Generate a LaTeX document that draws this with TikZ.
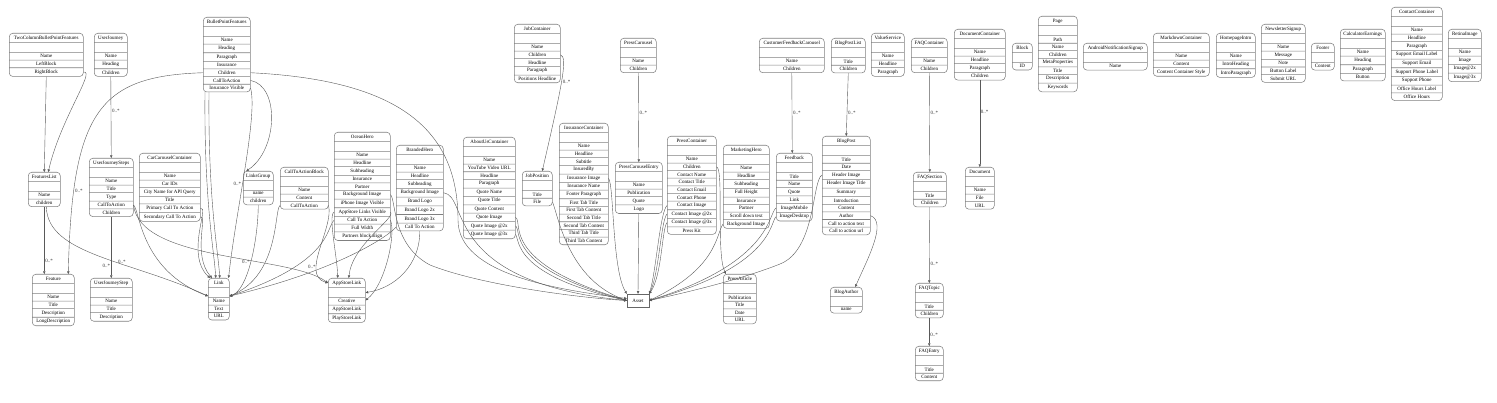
\documentclass[tikz,border=0pt]{standalone}
\usepackage{fontspec}
\setmainfont{Liberation Serif}
\usetikzlibrary{shapes.multipart, arrows.meta}

\begin{document}
\begin{tikzpicture}[x=1pt, y=-1pt, every node/.style={font=\fontsize{5}{6}\selectfont},
	classbox/.style={rectangle split, draw=black!50, line width=.55pt, rounded corners=3.5pt, anchor=north west, inner xsep=2pt, inner ysep=1.8pt, text height=4pt, text depth=1.2pt, rectangle split empty part height=4pt, rectangle split empty part depth=1.2pt},
	assoc/.style={draw=black!65, line width=.4pt, -{Triangle[length=2.6pt, width=2.4pt]}},
	mult/.style={inner sep=1pt, text=black!80}]
			\useasboundingbox (0,0) rectangle (1497,403);
			%Top row
			\node[classbox, rectangle split parts=5, minimum width=74pt] (twocolumn) at (9,33) {TwoColumnBulletPointFeatures \nodepart{two} \nodepart{three} Name \nodepart{four} LeftBlock \nodepart{five} RightBlock};
			\node[classbox, rectangle split parts=5, minimum width=33pt] (userjourney) at (94,33) {UserJourney \nodepart{two} \nodepart{three} Name \nodepart{four} Heading \nodepart{five} Children};
			\node[classbox, rectangle split parts=9, minimum width=47pt] (bullet) at (203,17) {BulletPointFeatures \nodepart{two} \nodepart{three} Name \nodepart{four} Heading \nodepart{five} Paragraph \nodepart{six} Insurance \nodepart{seven} Children \nodepart{eight} CallToAction \nodepart{nine} Insurance Visible};
			\node[classbox, rectangle split parts=7, minimum width=46pt] (jobcontainer) at (514,24) {JobContainer \nodepart{two} \nodepart{three} Name \nodepart{four} Children \nodepart{five} Headline \nodepart{six} Paragraph \nodepart{seven} Positions Headline};
			\node[classbox, rectangle split parts=4, minimum width=36pt] (presscarousel) at (620,38) {PressCarousel \nodepart{two} \nodepart{three} Name \nodepart{four} Children};
			\node[classbox, rectangle split parts=4, minimum width=65pt] (feedbackcarousel) at (759,38) {CustomerFeedbackCarousel \nodepart{two} \nodepart{three} Name \nodepart{four} Children};
			\node[classbox, rectangle split parts=4, minimum width=34pt] (blogpostlist) at (831,38) {BlogPostList \nodepart{two} \nodepart{three} Title \nodepart{four} Children};
			\node[classbox, rectangle split parts=5, minimum width=33pt] (valueservice) at (871,33) {ValueService \nodepart{two} \nodepart{three} Name \nodepart{four} Headline \nodepart{five} Paragraph};
			\node[classbox, rectangle split parts=4, minimum width=36pt] (faqcontainer) at (911,38) {FAQContainer \nodepart{two} \nodepart{three} Name \nodepart{four} Children};
			\node[classbox, rectangle split parts=6, minimum width=51pt] (doccontainer) at (954,29) {DocumentContainer \nodepart{two} \nodepart{three} Name \nodepart{four} Headline \nodepart{five} Paragraph \nodepart{six} Children};
			\node[classbox, rectangle split parts=3, minimum width=20pt] (block) at (1012,43) {Block \nodepart{two} \nodepart{three} ID};
			\node[classbox, rectangle split parts=9, minimum width=39pt] (page) at (1038,16) {Page \nodepart{two} \nodepart{three} Path \nodepart{four} Name \nodepart{five} Children \nodepart{six} MetaProperties \nodepart{seven} Title \nodepart{eight} Description \nodepart{nine} Keywords};
			\node[classbox, rectangle split parts=3, minimum width=64pt] (androidsignup) at (1083,43) {AndroidNotificationSignup \nodepart{two} \nodepart{three} Name};
			\node[classbox, rectangle split parts=5, minimum width=56pt] (markdown) at (1153,33) {MarkdownContainer \nodepart{two} \nodepart{three} Name \nodepart{four} Content \nodepart{five} Content Container Style};
			\node[classbox, rectangle split parts=5, minimum width=39pt] (homepageintro) at (1216,33) {HomepageIntro \nodepart{two} \nodepart{three} Name \nodepart{four} IntroHeading \nodepart{five} IntroParagraph};
			\node[classbox, rectangle split parts=7, minimum width=44pt] (newsletter) at (1261,24) {NewsletterSignup \nodepart{two} \nodepart{three} Name \nodepart{four} Message \nodepart{five} Note \nodepart{six} Button Label \nodepart{seven} Submit URL};
			\node[classbox, rectangle split parts=3, minimum width=23pt] (footer) at (1311,43) {Footer \nodepart{two} \nodepart{three} Content};
			\node[classbox, rectangle split parts=6, minimum width=45pt] (calculator) at (1340,29) {CalculatorEarnings \nodepart{two} \nodepart{three} Name \nodepart{four} Heading \nodepart{five} Paragraph \nodepart{six} Button};
			\node[classbox, rectangle split parts=11, minimum width=51pt] (contact) at (1391,7) {ContactContainer \nodepart{two} \nodepart{three} Name \nodepart{four} Headline \nodepart{five} Paragraph \nodepart{six} Support Email Label \nodepart{seven} Support Email \nodepart{eight} Support Phone Label \nodepart{nine} Support Phone \nodepart{ten} Office Hours Label \nodepart{eleven} Office Hours};
			\node[classbox, rectangle split parts=6, minimum width=33pt] (retina) at (1448,29) {RetinaImage \nodepart{two} \nodepart{three} Name \nodepart{four} Image \nodepart{five} Image@2x \nodepart{six} Image@3x};
			%Middle row
			\node[classbox, rectangle split parts=4, minimum width=32pt] (featureslist) at (28,172) {FeaturesList \nodepart{two} \nodepart{three} Name \nodepart{four} children};
			\node[classbox, rectangle split parts=7, minimum width=44pt] (journeysteps) at (89,158) {UserJourneySteps \nodepart{two} \nodepart{three} Name \nodepart{four} Title \nodepart{five} Type \nodepart{six} CallToAction \nodepart{seven} Children};
			\node[classbox, rectangle split parts=8, minimum width=61pt] (carcarousel) at (139,153) {CarCarouselContainer \nodepart{two} \nodepart{three} Name \nodepart{four} Car IDs \nodepart{five} City Name for API Query \nodepart{six} Title \nodepart{seven} Primary Call To Action \nodepart{eight} Secondary Call To Action};
			\node[classbox, rectangle split parts=4, minimum width=30pt] (linksgroup) at (243,171) {LinksGroup \nodepart{two} \nodepart{three} name \nodepart{four} children};
			\node[classbox, rectangle split parts=5, minimum width=48pt] (ctablock) at (280,167) {CallToActionBlock \nodepart{two} \nodepart{three} Name \nodepart{four} Content \nodepart{five} CallToAction};
			\node[classbox, rectangle split parts=13, minimum width=56pt] (oceanhero) at (334,132) {OceanHero \nodepart{two} \nodepart{three} Name \nodepart{four} Headline \nodepart{five} Subheading \nodepart{six} Insurance \nodepart{seven} Partner \nodepart{eight} Background Image \nodepart{nine} iPhone Image Visible \nodepart{ten} AppStore Links Visible \nodepart{eleven} Call To Action \nodepart{twelve} Full Width \nodepart{thirteen} Partners block align};
			\node[classbox, rectangle split parts=10, minimum width=47pt] (brandedhero) at (396,145) {BrandedHero \nodepart{two} \nodepart{three} Name \nodepart{four} Headline \nodepart{five} Subheading \nodepart{six} Background Image \nodepart{seven} Brand Logo \nodepart{eight} Brand Logo 2x \nodepart{nine} Brand Logo 3x \nodepart{ten} Call To Action};
			\node[classbox, rectangle split parts=12, minimum width=52pt] (aboutus) at (463,137) {AboutUsContainer \nodepart{two} \nodepart{three} Name \nodepart{four} YouTube Video URL \nodepart{five} Headline \nodepart{six} Paragraph \nodepart{seven} Quote Name \nodepart{eight} Quote Title \nodepart{nine} Quote Content \nodepart{ten} Quote Image \nodepart{eleven} Quote Image @2x \nodepart{twelve} Quote Image @3x};
			\node[classbox, rectangle split parts=4, minimum width=30pt] (jobposition) at (522,171) {JobPosition \nodepart{two} \nodepart{three} Title \nodepart{four} File};
			\node[classbox, rectangle split parts=15, minimum width=49pt] (insurance) at (559,123) {InsuranceContainer \nodepart{two} \nodepart{three} Name \nodepart{four} Headline \nodepart{five} Subtitle \nodepart{six} InsuredBy \nodepart{seven} Insurance Image \nodepart{eight} Insurance Name \nodepart{nine} Footer Paragraph \nodepart{ten} First Tab Title \nodepart{eleven} First Tab Content \nodepart{twelve} Second Tab Title \nodepart{thirteen} Second Tab Content \nodepart{fourteen} Third Tab Title \nodepart{fifteen} Third Tab Content};
			\node[classbox, rectangle split parts=6, minimum width=47pt] (pressentry) at (615,162) {PressCarouselEntry \nodepart{two} \nodepart{three} Name \nodepart{four} Publication \nodepart{five} Quote \nodepart{six} Logo};
			\node[classbox, rectangle split parts=12, minimum width=49pt] (presscontainer) at (667,136) {PressContainer \nodepart{two} \nodepart{three} Name \nodepart{four} Children \nodepart{five} Contact Name \nodepart{six} Contact Title \nodepart{seven} Contact Email \nodepart{eight} Contact Phone \nodepart{nine} Contact Image \nodepart{ten} Contact Image @2x \nodepart{eleven} Contact Image @3x \nodepart{twelve} Press Kit};
			\node[classbox, rectangle split parts=10, minimum width=46pt] (marketinghero) at (723,145) {MarketingHero \nodepart{two} \nodepart{three} Name \nodepart{four} Headline \nodepart{five} Subheading \nodepart{six} Full Height \nodepart{seven} Insurance \nodepart{eight} Partner \nodepart{nine} Scroll down text \nodepart{ten} Background Image};
			\node[classbox, rectangle split parts=8, minimum width=36pt] (feedback) at (776,153) {Feedback \nodepart{two} \nodepart{three} Title \nodepart{four} Name \nodepart{five} Quote \nodepart{six} Link \nodepart{seven} ImageMobile \nodepart{eight} ImageDesktop};
			\node[classbox, rectangle split parts=12, minimum width=48pt] (blogpost) at (822,136) {BlogPost \nodepart{two} \nodepart{three} Title \nodepart{four} Date \nodepart{five} Header Image \nodepart{six} Header Image Title \nodepart{seven} Summary \nodepart{eight} Introduction \nodepart{nine} Content \nodepart{ten} Author \nodepart{eleven} Call to action text \nodepart{twelve} Call to action url};
			\node[classbox, rectangle split parts=4, minimum width=33pt] (faqsection) at (913,172) {FAQSection \nodepart{two} \nodepart{three} Title \nodepart{four} Children};
			\node[classbox, rectangle split parts=5, minimum width=29pt] (document) at (965,167) {Document \nodepart{two} \nodepart{three} Name \nodepart{four} File \nodepart{five} URL};
			%Bottom row
			\node[classbox, rectangle split parts=6, minimum width=42pt] (feature) at (32,274) {Feature \nodepart{two} \nodepart{three} Name \nodepart{four} Title \nodepart{five} Description \nodepart{six} LongDescription};
			\node[classbox, rectangle split parts=5, minimum width=42pt] (journeystep) at (90,278) {UserJourneyStep \nodepart{two} \nodepart{three} Name \nodepart{four} Title \nodepart{five} Description};
			\node[classbox, rectangle split parts=5, minimum width=21pt] (link) at (208,278) {Link \nodepart{two} \nodepart{three} Name \nodepart{four} Text \nodepart{five} URL};
			\node[classbox, rectangle split parts=5, minimum width=37pt] (appstorelink) at (328,278) {AppStoreLink \nodepart{two} \nodepart{three} Creative \nodepart{four} AppStoreLink \nodepart{five} PlayStoreLink};
			\node[draw=black!60, line width=.4pt, minimum width=22pt, minimum height=13pt, inner sep=0pt] (asset) at (638,300.5) {Asset};
			\node[classbox, rectangle split parts=6, minimum width=33pt] (pressarticle) at (723,274) {PressArticle \nodepart{two} \nodepart{three} Publication \nodepart{four} Title \nodepart{five} Date \nodepart{six} URL};
			\node[classbox, rectangle split parts=3, minimum width=32pt] (blogauthor) at (830,287) {BlogAuthor \nodepart{two} \nodepart{three} name};
			\node[classbox, rectangle split parts=4, minimum width=28pt] (faqtopic) at (915,283) {FAQTopic \nodepart{two} \nodepart{three} Title \nodepart{four} Children};
			\node[classbox, rectangle split parts=4, minimum width=28pt] (faqentry) at (915,346) {FAQEntry \nodepart{two} \nodepart{three} Title \nodepart{four} Content};
			% Features and journeys
			\draw[assoc] (twocolumn.south) -- (featureslist.north);
			\draw[assoc] (twocolumn.five east) .. controls (96,70) and (60,120) .. ([xshift=4pt]featureslist.north);
			\draw[assoc] (featureslist.south) -- node[mult, pos=.8, right] {0..*} ([xshift=-9pt]feature.north);
			\draw[assoc] (bullet.seven west) .. controls (100,76) and (72,110) .. node[mult, pos=.8, right] {0..*} ([xshift=15pt]feature.north);
			\draw[assoc] (userjourney.south) -- node[mult, pos=.42, right] {0..*} (journeysteps.north);
			\draw[assoc] (journeysteps.south) -- node[mult, pos=.8, left] {0..*} (journeystep.north);
			% Links
			\draw[assoc] ([xshift=2pt]featureslist.south) .. controls (48,255) and (130,260) .. node[mult, pos=.62, above] {0..*} ([yshift=3pt]link.west);
			\draw[assoc] (journeysteps.six east) .. controls (140,210) and (140,270) .. ([yshift=3pt]link.west);
			\draw[assoc] (carcarousel.seven east) .. controls (210,205) and (185,255) .. ([xshift=2pt]link.north west);
			\draw[assoc] (carcarousel.eight east) .. controls (208,214) and (192,255) .. ([xshift=4pt]link.north west);
			\draw[assoc] ([xshift=2pt]bullet.south west) .. controls (204,200) and (214,250) .. ([xshift=-3pt]link.north);
			\draw[assoc] ([xshift=6pt]bullet.south west) .. controls (208,200) and (218,250) .. ([xshift=1pt]link.north);
			\draw[assoc] (bullet.nine east) .. controls (258,115) and (236,210) .. ([xshift=-1pt]link.north east);
			\draw[assoc] (bullet.eight east) .. controls (280,86) and (278,150) .. node[mult, pos=1, anchor=north east, xshift=-4pt, yshift=-10pt] {0..*} ([xshift=-12pt]linksgroup.north);
			\draw[assoc] (linksgroup.south) .. controls (258,240) and (248,290) .. node[mult, left] {0..*} ([yshift=3pt]link.east);
			\draw[assoc] (ctablock.five west) .. controls (274,210) and (280,275) .. ([yshift=3pt]link.east);
			\draw[assoc] (oceanhero.eleven west) .. controls (326,228) and (332,262) .. ([yshift=3pt]link.east);
			\draw[assoc] (brandedhero.ten west) .. controls (390,235) and (340,270) .. ([yshift=3pt]link.east);
			% App store links
			\draw[assoc] (journeysteps.six east) .. controls (140,262) and (290,255) .. (appstorelink.text west);
			\draw[assoc] (ctablock.five east) .. controls (334,228) and (300,275) .. node[mult, pos=.7, left] {0..*} (appstorelink.text west);
			\draw[assoc] (oceanhero.ten west) .. controls (328,216) and (337,255) .. ([xshift=-9pt]appstorelink.north);
			\draw[assoc] (oceanhero.ten east) .. controls (396,218) and (352,245) .. ([xshift=2pt]appstorelink.north);
			\draw[assoc] (oceanhero.eleven east) .. controls (396,235) and (385,285) .. (appstorelink.east);
			\draw[assoc] (brandedhero.south) .. controls (420,265) and (395,288) .. (appstorelink.two east);
			% Assets
			\draw[assoc] (bullet.seven east) .. controls (400,80) and (458,130) .. (458,220) .. controls (458,275) and (560,290) .. ([yshift=2pt]asset.west);
			\draw[assoc] (oceanhero.eight east) .. controls (396,200) and (392,245) .. (430,265) .. controls (480,285) and (580,298) .. (asset.west);
			\draw[assoc] (brandedhero.six east) .. controls (470,196) and (440,282) .. (asset.west);
			\draw[assoc] (aboutus.ten east) .. controls (524,222) and (498,262) .. (asset.west);
			\draw[assoc] (aboutus.eleven east) .. controls (522,230) and (505,268) .. (asset.west);
			\draw[assoc] (aboutus.twelve east) .. controls (520,240) and (512,275) .. (asset.west);
			\draw[assoc] (jobposition.four east) .. controls (558,215) and (568,280) .. (asset.west);
			\draw[assoc] (insurance.seven east) .. controls (614,185) and (612,270) .. (asset.north west);
			\draw[assoc] (pressentry.south) -- (asset.north);
			\draw[assoc] (presscontainer.nine west) .. controls (660,212) and (656,272) .. (asset.north east);
			\draw[assoc] (presscontainer.ten west) .. controls (661,220) and (659,274) .. (asset.north east);
			\draw[assoc] (presscontainer.eleven west) .. controls (662,228) and (662,276) .. (asset.north east);
			\draw[assoc] (marketinghero.ten west) .. controls (716,234) and (718,268) .. (asset.east);
			\draw[assoc] (feedback.seven west) .. controls (768,214) and (772,262) .. (asset.east);
			\draw[assoc] (feedback.eight west) .. controls (770,222) and (774,266) .. (asset.east);
			\draw[assoc] (blogpost.five west) .. controls (812,180) and (816,250) .. (780,264) .. controls (740,280) and (680,294) .. (asset.east);
			% Jobs, press and blog
			\draw[assoc] (jobcontainer.four east) .. controls (568,57) and (562,85) .. node[mult, right] {0..*} ([xshift=5pt]jobposition.north);
			\draw[assoc] (presscarousel.south) -- node[mult, pos=.45, right] {0..*} (pressentry.north);
			\draw[assoc] (presscontainer.four east) .. controls (724,168) and (716,255) .. ([xshift=3pt]pressarticle.north west);
			\draw[assoc] (feedbackcarousel.south) -- node[mult, pos=.5, right] {0..*} ([xshift=-2pt]feedback.north);
			\draw[assoc] (blogpostlist.south) -- node[mult, pos=.63, right] {0..*} (blogpost.north);
			\draw[assoc] (blogpost.ten east) .. controls (888,222) and (866,262) .. ([xshift=9pt]blogauthor.north);
			% FAQ and documents
			\draw[assoc] (faqcontainer.south) -- node[mult, pos=.4, right] {0..*} (faqsection.north);
			\draw[assoc] (faqsection.south) -- node[mult, pos=.75, right] {0..*} (faqtopic.north);
			\draw[assoc] (faqtopic.south) -- node[mult, pos=.6, right] {0..*} (faqentry.north);
			\draw[assoc] (doccontainer.south) -- node[mult, pos=.36, right] {0..*} (document.north);
		\end{tikzpicture}
\end{document}
